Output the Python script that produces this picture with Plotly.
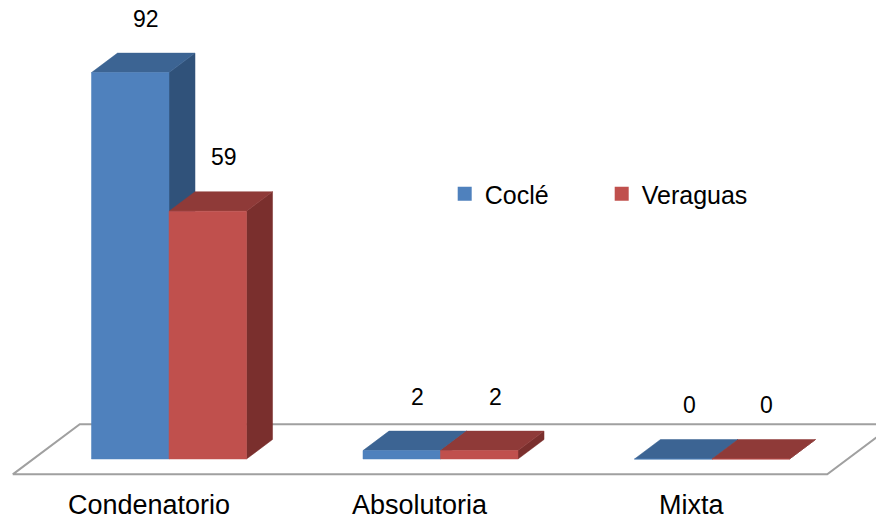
import plotly.graph_objects as go

# ---- data ----
categories = ["Condenatorio", "Absolutoria", "Mixta"]
series_names = ["Coclé", "Veraguas"]
cocle = [92, 2, 0]
veraguas = [59, 2, 0]
series_values = [cocle, veraguas]

# ---- style ----
face_colors = [
    {"front": "#4F81BD", "top": "#3C6493", "side": "#30527A"},
    {"front": "#C0504D", "top": "#8F3A38", "side": "#7A2F2D"},
]
BAR_W = 0.2855      # width of one series bar, in category units
DDX = 0.0958        # 3D depth projection along x (category units)
DDY = 4.64          # 3D depth projection along y (value units)
FLOOR_EXT = 0.788   # floor depth margin before/after bars (in bar depths)
FONT = "Liberation Sans, Arial, sans-serif"
PAGE_OFF = 8        # page body margin in px

fig = go.Figure()

# floor
n = len(categories)
fx0, fx1 = -0.5, n - 0.5
fd0, fd1 = -FLOOR_EXT, 1 + FLOOR_EXT
floor_x = [fx0 + fd0 * DDX, fx1 + fd0 * DDX, fx1 + fd1 * DDX, fx0 + fd1 * DDX, fx0 + fd0 * DDX]
floor_y = [fd0 * DDY, fd0 * DDY, fd1 * DDY, fd1 * DDY, fd0 * DDY]
fig.add_trace(go.Scatter(x=floor_x, y=floor_y, mode="lines", fill="toself",
                         fillcolor="white", line=dict(color="#A0A0A0", width=2),
                         hoverinfo="skip", showlegend=False))

annotations = []
for s, vals in enumerate(series_values):
    polys = {"side": ([], []), "top": ([], []), "front": ([], [])}
    for i, v in enumerate(vals):
        x0 = i - BAR_W + s * BAR_W
        x1 = x0 + BAR_W
        fr = [(x0, 0), (x1, 0), (x1, v), (x0, v)]
        tp = [(x0, v), (x1, v), (x1 + DDX, v + DDY), (x0 + DDX, v + DDY)]
        sd = [(x1, 0), (x1 + DDX, DDY), (x1 + DDX, v + DDY), (x1, v)]
        for key, pts in (("front", fr), ("top", tp), ("side", sd)):
            xs, ys = polys[key]
            xs.extend([p[0] for p in pts] + [pts[0][0], None])
            ys.extend([p[1] for p in pts] + [pts[0][1], None])
        annotations.append(dict(x=(x0 + x1) / 2 + DDX / 2, y=v + DDY / 2, xref="x", yref="y",
                                text=str(v), showarrow=False, yshift=44, xshift=3,
                                font=dict(size=23, color="black", family=FONT)))
    for key in ("side", "top", "front"):
        xs, ys = polys[key]
        c = face_colors[s][key]
        fig.add_trace(go.Scatter(x=xs, y=ys, mode="lines", fill="toself", fillcolor=c,
                                 line=dict(color=c, width=0.5), hoverinfo="skip",
                                 showlegend=False))

# legend entries
for s, name in enumerate(series_names):
    fig.add_trace(go.Scatter(x=[None], y=[None], mode="markers", name=name,
                             marker=dict(symbol="square", size=14, color=face_colors[s]["front"])))

# category labels
for i, c in enumerate(categories):
    annotations.append(dict(x=i + fd0 * DDX, y=fd0 * DDY, xref="x", yref="y", text=c,
                            showarrow=False, yanchor="middle", yshift=-31,
                            font=dict(size=27, color="black", family=FONT)))

W, H = 884, 517
fig.update_layout(
    width=W, height=H,
    margin=dict(l=0, r=0, t=0, b=0),
    paper_bgcolor="white", plot_bgcolor="white",
    xaxis=dict(range=[-(169 - PAGE_OFF) / 271.5, (W - 169 + PAGE_OFF) / 271.5],
               visible=False, fixedrange=True),
    yaxis=dict(range=[-(H - 459 + PAGE_OFF) / 4.2, (459 - PAGE_OFF) / 4.2],
               visible=False, fixedrange=True),
    showlegend=True,
    legend=dict(orientation="h", x=(444.7 - PAGE_OFF) / W, xanchor="left",
                y=1 - (194 - PAGE_OFF) / H, yanchor="middle",
                font=dict(size=25, color="black", family=FONT), entrywidth=112,
                bgcolor="rgba(0,0,0,0)"),
    annotations=annotations,
)

fig.write_html("out.html")
